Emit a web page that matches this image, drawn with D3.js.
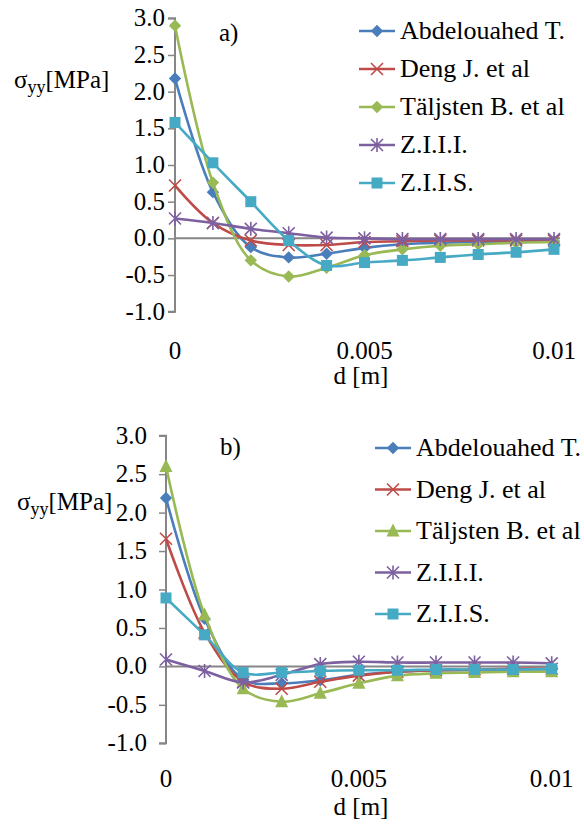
<!DOCTYPE html>
<html>
<head>
<meta charset="utf-8">
<script src="https://cdn.jsdelivr.net/npm/d3@7"></script>
</head>
<body style="margin:0">
<svg id="s" width="584" height="830"></svg>
<script>
// distance from the edge [m]
const dist = [0, 0.001, 0.002, 0.003, 0.004, 0.005, 0.006, 0.007, 0.008, 0.009, 0.01];

const seriesNames = ["Abdelouahed T.", "Deng J. et al", "Täljsten B. et al", "Z.I.I.I.", "Z.I.I.S."];
const seriesColors = ["#4A7EBB", "#BE4B48", "#98B954", "#7D60A0", "#46AAC5"];

// panel a) normal stress sigma_yy [MPa]
const abdA  = [2.18, 0.63, -0.12, -0.26, -0.21, -0.13, -0.08, -0.06, -0.05, -0.05, -0.04];
const dengA = [0.72, 0.21, -0.03, -0.09, -0.09, -0.05, -0.04, -0.03, -0.03, -0.03, -0.03];
const taljA = [2.90, 0.76, -0.30, -0.52, -0.40, -0.23, -0.15, -0.10, -0.08, -0.06, -0.05];
const ziiiA = [0.27, 0.21, 0.13, 0.07, 0.01, 0.00, -0.01, -0.01, -0.01, -0.01, -0.01];
const ziisA = [1.58, 1.03, 0.50, -0.03, -0.37, -0.33, -0.30, -0.26, -0.22, -0.19, -0.15];

// panel b)
const abdB  = [2.19, 0.62, -0.17, -0.22, -0.18, -0.11, -0.07, -0.05, -0.05, -0.04, -0.04];
const dengB = [1.66, 0.44, -0.20, -0.29, -0.20, -0.12, -0.07, -0.05, -0.04, -0.03, -0.03];
const taljB = [2.60, 0.67, -0.29, -0.46, -0.35, -0.22, -0.12, -0.09, -0.08, -0.07, -0.07];
const ziiiB = [0.09, -0.06, -0.21, -0.11, 0.03, 0.06, 0.05, 0.05, 0.05, 0.05, 0.04];
const ziisB = [0.89, 0.41, -0.08, -0.08, -0.06, -0.05, -0.05, -0.04, -0.04, -0.04, -0.03];

const yTicks = [3.0, 2.5, 2.0, 1.5, 1.0, 0.5, 0.0, -0.5, -1.0];
const yTickLabels = ["3.0", "2.5", "2.0", "1.5", "1.0", "0.5", "0.0", "-0.5", "-1.0"];
const xTicks = [0, 0.005, 0.01];
const xTickLabels = ["0", "0.005", "0.01"];

const svg = d3.select("#s");
const AXIS = "#868686";
const FS = 25;

// text layer sits directly on the svg root, on top of the plot
const marks = svg.append("g");
const textLayer = svg;

function label(x, y, str, size, anchor) {
  return textLayer.append("text")
    .attr("x", x).attr("y", y)
    .attr("text-anchor", anchor || "start")
    .style("font-family", () => '"Liberation Serif"')
    .style("font-size", () => size + "px")
    .text(str);
}

// marker shapes per series
function drawMarker(g, shape, color) {
  const s = 6.2;
  if (shape === "diamond") {
    g.append("path").attr("d", `M0,${-s}L${s},0L0,${s}L${-s},0Z`).attr("fill", color);
  } else if (shape === "square") {
    g.append("rect").attr("x", -5.5).attr("y", -5.5).attr("width", 11).attr("height", 11).attr("fill", color);
  } else if (shape === "triangle") {
    g.append("path").attr("d", `M0,-7.5L6.5,5.5L-6.5,5.5Z`).attr("fill", color);
  } else if (shape === "x") {
    g.append("path").attr("d", `M-6,-6L6,6M-6,6L6,-6`).attr("stroke", color).attr("stroke-width", 1.6).attr("fill", "none");
  } else if (shape === "star") {
    g.append("path").attr("d", `M-6,-6L6,6M-6,6L6,-6M0,-7L0,7`).attr("stroke", color).attr("stroke-width", 1.6).attr("fill", "none");
  }
}

function panel(cfg) {
  const x = d3.scaleLinear().domain([0, 0.01]).range([cfg.x0, cfg.x1]);
  const y = d3.scaleLinear().domain([-1, 3]).range([cfg.yBot, cfg.yTop]);
  const g = marks.append("g");

  // y axis line and outward ticks (labels placed in the text layer)
  const yAxis = d3.axisLeft(y).tickValues(yTicks).tickSize(7).tickFormat("");
  const ya = g.append("g").attr("transform", `translate(${cfg.x0},0)`).call(yAxis);
  ya.select(".domain").attr("stroke", AXIS).attr("stroke-width", 2).attr("d", `M-7,${cfg.yTop}H0V${cfg.yBot}H-7`);
  ya.selectAll(".tick line").attr("stroke", AXIS).attr("stroke-width", 1.5);
  ya.selectAll(".tick text").remove();
  yTicks.forEach((t, i) => label(cfg.x0 - 7 - cfg.tickPad, y(t) + 8, yTickLabels[i], FS, "end"));

  // horizontal line at zero
  g.append("line").attr("x1", cfg.x0).attr("x2", cfg.x1 + 6).attr("y1", y(0)).attr("y2", y(0))
    .attr("stroke", AXIS).attr("stroke-width", 2);

  // x tick labels below the plot
  xTicks.forEach((t, i) => label(x(t), cfg.xLabY, xTickLabels[i], FS, "middle"));
  label(361, cfg.xTitleY, "d [m]", FS, "middle");

  // y axis title
  const yt = label(cfg.yTitleX, cfg.yTitleY, null, FS);
  yt.append("tspan").text("σ");
  yt.append("tspan").attr("dy", 5).style("font-size", "18px").text("yy");
  yt.append("tspan").attr("dy", -5).text("[MPa]");

  // panel tag
  label(cfg.tagX, cfg.tagY, cfg.tag, FS);

  const line = d3.line().x(d => x(d[0])).y(d => y(d[1])).curve(d3.curveCatmullRom.alpha(0.5));

  cfg.series.forEach((vals, i) => {
    const pts = dist.map((d, k) => [d, vals[k]]);
    const sg = g.append("g");
    sg.append("path").attr("d", line(pts)).attr("fill", "none")
      .attr("stroke", seriesColors[i]).attr("stroke-width", 2.6);
    pts.forEach(p => {
      const m = sg.append("g").attr("transform", `translate(${x(p[0])},${y(p[1])})`);
      drawMarker(m, cfg.shapes[i], seriesColors[i]);
    });
  });

  // legend
  seriesNames.forEach((name, i) => {
    const ly = cfg.legY0 + i * cfg.legStep;
    g.append("line").attr("x1", cfg.legX).attr("x2", cfg.legX + 36).attr("y1", ly).attr("y2", ly)
      .attr("stroke", seriesColors[i]).attr("stroke-width", 2.6);
    const m = g.append("g").attr("transform", `translate(${cfg.legX + 18},${ly})`);
    drawMarker(m, cfg.shapes[i], seriesColors[i]);
    label(cfg.legX + 41, ly + 8, name, 26);
  });
}

panel({
  x0: 175, x1: 554, yTop: 18.3, yBot: 311.7, tickPad: 3,
  xLabY: 359, xTitleY: 384,
  yTitleX: 14, yTitleY: 88,
  tag: "a)", tagX: 219, tagY: 41,
  legX: 359, legY0: 31, legStep: 38,
  shapes: ["diamond", "x", "diamond", "star", "square"],
  series: [abdA, dengA, taljA, ziiiA, ziisA]
});

panel({
  x0: 166, x1: 551.7, yTop: 435.7, yBot: 743.3, tickPad: 12,
  xLabY: 787, xTitleY: 815,
  yTitleX: 17, yTitleY: 510,
  tag: "b)", tagX: 220, tagY: 455,
  legX: 375, legY0: 448, legStep: 41.5,
  shapes: ["diamond", "x", "triangle", "star", "square"],
  series: [abdB, dengB, taljB, ziiiB, ziisB]
});
</script>
</body>
</html>
